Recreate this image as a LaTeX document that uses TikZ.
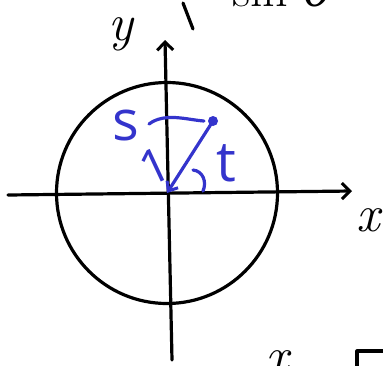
\documentclass[tikz,border=0pt]{standalone}
\usepackage{fontspec}
\newfontfamily\grkfont{DejaVu Serif}
\newfontfamily\handfont{Open Sans}
\usepackage{tikz}
\usetikzlibrary{arrows.meta}
\definecolor{pen}{HTML}{3434CC}

\begin{document}
\begin{tikzpicture}[x=1pt,y=-1pt,
  axis/.style={draw=black,line width=3.2pt,line cap=round,line join=round},
  vec/.style={draw=pen,line width=3.2pt,line cap=round,line join=round},
  tip/.style={-{Straight Barb[length=8pt,width=16pt,line width=3pt]}},
  lbl/.style={font=\fontsize{52}{52}\selectfont\itshape,inner sep=0pt},
  blbl/.style={text=pen,font=\fontsize{56}{56}\selectfont\handfont,inner sep=0pt}]
  \useasboundingbox (0,0) rectangle (383,365);
  \clip (0,0) rectangle (383,365);

  % unit circle and axes
  \coordinate (O) at (167,193);
  \node[circle,draw,line width=3.2pt,minimum size=221pt,inner sep=0pt] (circ) at (O) {};
  \coordinate (xl) at (8,195);
  \coordinate (xr) at (352,191);
  \coordinate (yb) at (172,360);
  \coordinate (yt) at (165,40);
  \draw[axis,tip] (xl) -- (xr);
  \draw[axis,tip] (yb) -- (yt);
  \node[lbl] (ylab) at (121,34) {y};
  \node[lbl] (xlab) at (368,220) {x};

  % blue vector, arc length s, angle t
  \node[circle,fill=pen,minimum size=10pt,inner sep=0pt] (P) at (213,121) {};
  \draw[vec,-{Straight Barb[length=8pt,width=13pt,line width=3pt]}] (P.center) -- (O);
  \coordinate (s0) at (149,124);
  \coordinate (s1) at (204,121);
  \draw[vec] (s0) .. controls (165,112) and (188,120) .. (s1);
  \coordinate (t0) at (193,170);
  \coordinate (t1) at (203,191);
  \draw[vec] (t0) .. controls (203,171) and (207,182) .. (t1);
  \node[blbl] (slab) at (126,126) {s};
  \node[blbl,rotate=25,font=\fontsize{48}{48}\selectfont\handfont] (one) at (155,166) {1};
  \node[blbl] (tlab) at (226,163) {t};

  % cut-off bits of the notes round the sketch
  \node[lbl,anchor=base west,font=\fontsize{50}{50}\selectfont] (sin) at (232,6) {sin {\grkfont\itshape θ}};
  \coordinate (br0) at (183,3);
  \coordinate (br1) at (193,29);
  \draw[axis] (br0) -- (br1);
  \node[lbl] (yfrag) at (396,278) {y};
  \node[lbl,anchor=north] (xfrag) at (277,350) {x};
  \coordinate (sq0) at (357,367);
  \coordinate (sq1) at (357,351);
  \coordinate (sq2) at (385,351);
  \draw[axis] (sq0) -- (sq1) -- (sq2);
\end{tikzpicture}
\end{document}
